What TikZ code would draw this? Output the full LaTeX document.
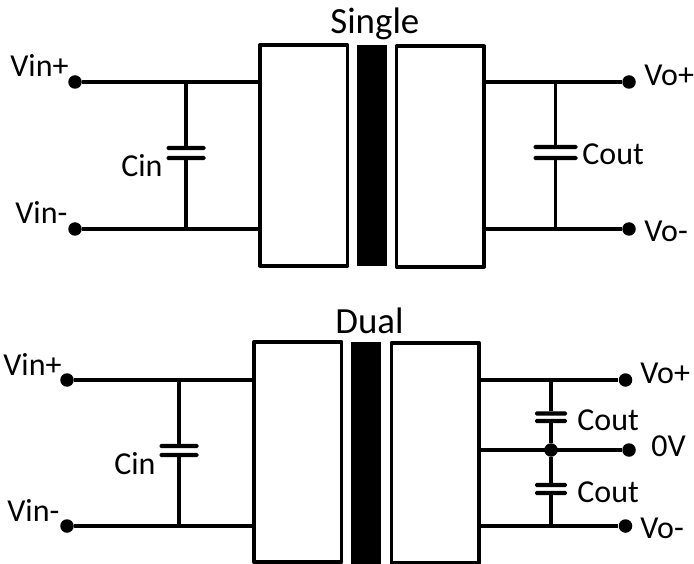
\documentclass[tikz,border=0pt]{standalone}
\usepackage{fontspec}
\setmainfont{Carlito}
\tikzset{
    wire/.style={line width=0.75mm},
    dot/.style={circle, fill=black, inner sep=0pt, minimum size=2.7mm},
    convbox/.style={draw, line width=0.75mm, line join=round, fill=white, inner sep=0pt, minimum width=17.5mm, minimum height=44.1mm},
    core/.style={fill=black, inner sep=0pt, minimum width=6mm, minimum height=44.2mm},
    plate/.style={fill=black, rounded corners=0.3mm, inner sep=0pt, minimum height=0.85mm},
    inplate/.style={plate, minimum width=7.8mm},
    outplate/.style={plate, minimum width=8.8mm},
    dualplate/.style={plate, minimum width=6.4mm},
    lab/.style={anchor=base west, inner sep=0pt, font=\fontsize{18.2}{20}\selectfont},
    head/.style={anchor=base west, inner sep=0pt, font=\fontsize{21}{24}\selectfont}
}
\begin{document}
\begin{tikzpicture}[x=0.2mm, y=-0.2mm]
    \useasboundingbox (0,0) rectangle (694,564);

    % single output
    \node[convbox] (boxa) at (303.7,155.5) {};
    \node[core] (corea) at (372,155.5) {};
    \node[convbox] (boxb) at (440.3,156.5) {};
    \node[dot] (vipa) at (75,82) {};
    \node[dot] (vima) at (75,229) {};
    \node[dot] (vopa) at (629,82) {};
    \node[dot] (voma) at (629,229) {};
    \node[inplate] (cinat) at (186,148) {};
    \node[inplate] (cinab) at (186,158) {};
    \node[outplate] (couat) at (555.5,147) {};
    \node[outplate] (couab) at (555.5,158) {};
    \draw[wire] (vipa) -- (vipa -| boxa.west);
    \draw[wire] (vima) -- (vima -| boxa.west);
    \draw[wire] (vopa) -- (vopa -| boxb.east);
    \draw[wire] (voma) -- (voma -| boxb.east);
    \draw[wire] (cinat) -- (cinat |- vipa);
    \draw[wire] (cinab) -- (cinab |- vima);
    \draw[wire] (couat) -- (couat |- vopa);
    \draw[wire] (couab) -- (couab |- voma);
    \node[head] (titlea) at (330,34) {Single};
    \node[lab] (lvipa) at (10,77) {Vin+};
    \node[lab] (lvima) at (15,224) {Vin-};
    \node[lab] (lcina) at (121,177) {Cin};
    \node[lab] (lcoua) at (582,165) {Cout};
    \node[lab] (lvopa) at (644,86) {Vo+};
    \node[lab] (lvoma) at (644,242) {Vo-};

    % dual output
    \node[convbox] (boxc) at (297.7,452) {};
    \node[core] (corec) at (366,453) {};
    \node[convbox] (boxd) at (435.3,453) {};
    \node[dot] (vipc) at (67,380) {};
    \node[dot] (vimc) at (67,526) {};
    \node[dot] (vopc) at (625.5,380) {};
    \node[dot] (zeroc) at (629,450) {};
    \node[dot] (vomc) at (625.5,526) {};
    \node[dot] (midc) at (551,450) {};
    \node[inplate] (cinct) at (179,446) {};
    \node[inplate] (cincb) at (179,455) {};
    \node[dualplate] (couct) at (551,413.5) {};
    \node[dualplate] (coucb) at (551,421) {};
    \node[dualplate] (coudt) at (551,485) {};
    \node[dualplate] (coudb) at (551,493) {};
    \draw[wire] (vipc) -- (vipc -| boxc.west);
    \draw[wire] (vimc) -- (vimc -| boxc.west);
    \draw[wire] (vopc) -- (vopc -| boxd.east);
    \draw[wire] (zeroc) -- (zeroc -| boxd.east);
    \draw[wire] (vomc) -- (vomc -| boxd.east);
    \draw[wire] (cinct) -- (cinct |- vipc);
    \draw[wire] (cincb) -- (cincb |- vimc);
    \draw[wire] (couct) -- (couct |- vopc);
    \draw[wire] (coucb) -- (midc);
    \draw[wire] (coudt) -- (midc);
    \draw[wire] (coudb) -- (coudb |- vomc);
    \node[head] (titlec) at (335,333) {Dual};
    \node[lab] (lvipc) at (3,375) {Vin+};
    \node[lab] (lvimc) at (7,521) {Vin-};
    \node[lab] (lcinc) at (114,474) {Cin};
    \node[lab] (lcouc) at (577,430) {Cout};
    \node[lab] (lcoud) at (577,502) {Cout};
    \node[lab] (lvopc) at (640,383) {Vo+};
    \node[lab] (lzeroc) at (651,456) {0V};
    \node[lab] (lvomc) at (640,538) {Vo-};
\end{tikzpicture}
\end{document}
